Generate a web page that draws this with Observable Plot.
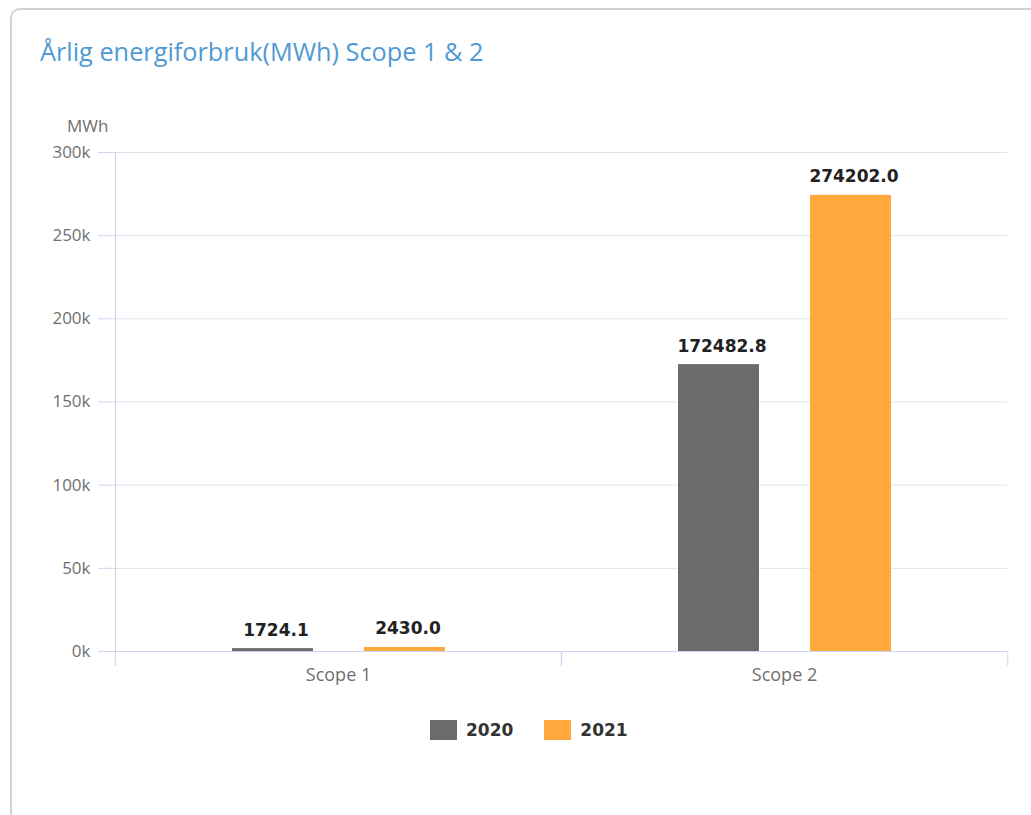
<!DOCTYPE html>
<html>
<head>
<meta charset="utf-8">
<script src="https://cdn.jsdelivr.net/npm/d3@7"></script>
<script src="https://cdn.jsdelivr.net/npm/@observablehq/plot@0.6"></script>
<style>
  html, body { margin: 0; padding: 0; background: #fff; }
  body { width: 1031px; height: 815px; overflow: hidden; position: relative; font-family: "Open Sans", sans-serif; }
  #card { position: absolute; left: 10px; top: 8px; width: 1100px; height: 900px; border: 2px solid #d2d2d2; border-radius: 10px; box-sizing: border-box; }
  #title { position: absolute; left: 40px; top: 34px; font-size: 25.3px; color: #4f9ad2; white-space: nowrap; }
  #unit { position: absolute; left: 67px; top: 114px; font-size: 17px; color: #707070; }
  #chart { position: absolute; left: 0; top: 100px; }
  #legend { position: absolute; left: 430px; top: 720px; display: flex; align-items: center; font-family: "DejaVu Sans", sans-serif; font-weight: bold; font-size: 17px; color: #333; }
  .item { display: flex; align-items: center; margin-right: 31px; }
  .sw { width: 27px; height: 20px; margin-right: 9px; }
</style>
</head>
<body>
<div id="card"></div>
<div id="title">Årlig energiforbruk(MWh) Scope 1 &amp; 2</div>
<div id="unit">MWh</div>
<div id="chart"></div>
<div id="legend"></div>
<script>
const categories = ["Scope 1", "Scope 2"];
const years = ["2020", "2021"];
const values2020 = [1724.1, 172482.8];
const values2021 = [2430.0, 274202.0];
const yTicks = [0, 50000, 100000, 150000, 200000, 250000, 300000];
const colors = ["#6b6b6b", "#ffa83c"];

const data = categories.flatMap((c, i) => [
  {category: c, year: years[0], value: values2020[i]},
  {category: c, year: years[1], value: values2021[i]}
]);

const W = 1031, H = 600, ML = 114, MR = 24, MT = 52, MB = 49;
const fxStep = (W - ML - MR) / categories.length;
const gridColor = "#dfe4ea";
const axisColor = "#ccd6eb";

const chart = Plot.plot({
  width: W, height: H,
  marginLeft: ML, marginRight: MR, marginTop: MT, marginBottom: MB,
  style: {fontFamily: "'Open Sans', sans-serif", background: "transparent"},
  fx: {domain: categories, padding: 0, label: null, axis: null},
  x: {domain: years, paddingInner: 0.39, paddingOuter: 0.88, axis: null},
  y: {domain: [0, 300000], axis: null},
  color: {domain: years, range: colors},
  marks: [
    Plot.gridY(yTicks, {stroke: gridColor, strokeOpacity: 1}),
    Plot.axisY(yTicks, {
      tickFormat: d => (d / 1000) + "k", tickSize: 17, tickPadding: 8,
      stroke: axisColor, fontSize: 17, fill: "#707070", label: null
    }),
    Plot.frame({anchor: "left", facetAnchor: "left", stroke: axisColor}),
    Plot.ruleY([0], {stroke: axisColor}),
    Plot.barY(data, {fx: "category", x: "year", y: "value", fill: "year"}),
    Plot.text(data, {
      fx: "category", x: "year", y: "value", text: d => d.value.toFixed(1),
      lineAnchor: "bottom", dy: -13, dx: 3, fontSize: 17, fontWeight: "bold", letterSpacing: 0.5,
      fontFamily: "DejaVu Sans, sans-serif", fill: "#222"
    }),
    Plot.axisFx({anchor: "bottom", tickSize: 0, tickPadding: 17, fontSize: 18, letterSpacing: 0.4, fill: "#707070", label: null}),
    Plot.axisFx({anchor: "bottom", tickSize: 15, tickFormat: () => "", stroke: axisColor, dx: -fxStep / 2, label: null}),
    Plot.axisFx({anchor: "bottom", tickSize: 15, tickFormat: () => "", stroke: axisColor, dx: fxStep / 2, label: null})
  ]
});
document.getElementById("chart").appendChild(chart);

const legend = document.getElementById("legend");
years.forEach((y, i) => {
  const item = document.createElement("div");
  item.className = "item";
  const sw = document.createElement("div");
  sw.className = "sw";
  sw.style.background = colors[i];
  const t = document.createElement("span");
  t.textContent = y;
  item.appendChild(sw);
  item.appendChild(t);
  legend.appendChild(item);
});
</script>
</body>
</html>
